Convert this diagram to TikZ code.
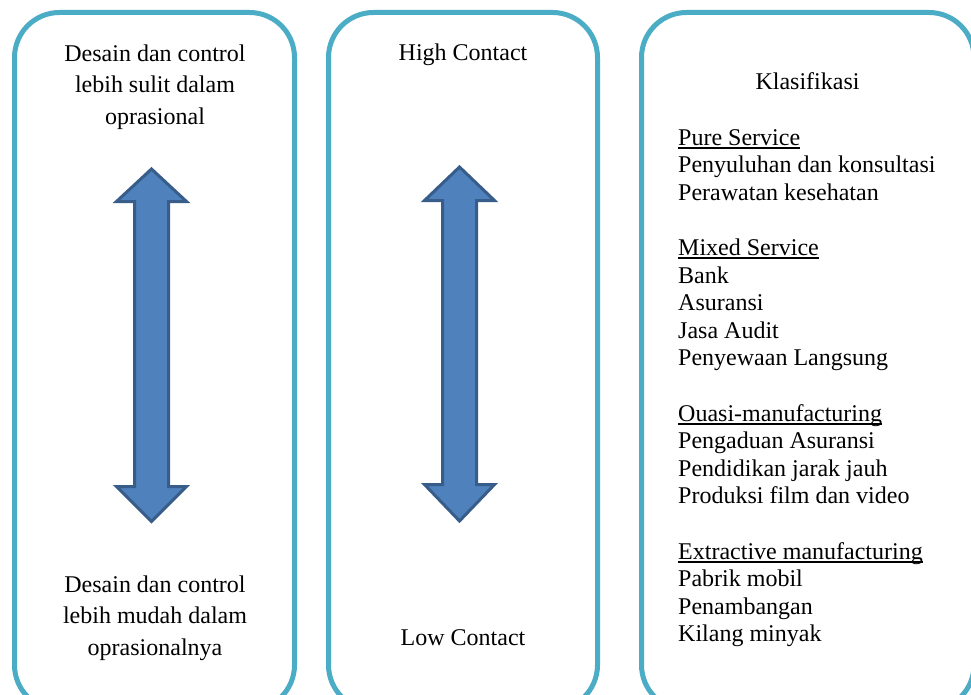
\documentclass[tikz,border=0pt]{standalone}
\usepackage{fontspec}
\setmainfont{Liberation Serif}
\definecolor{boxline}{HTML}{4BACC6}
\definecolor{arrowfill}{HTML}{4F81BD}
\definecolor{arrowline}{HTML}{385D8A}
\newcommand\headline[1]{\leavevmode\setbox0\hbox{#1}\rlap{\rule[-3.5pt]{\wd0}{1.8pt}}\box0}
\tikzset{
  panel/.style={draw=boxline, line width=5pt, rounded corners=45pt},
  dblarrow/.style={draw=arrowline, fill=arrowfill, line width=3pt},
  label/.style={inner sep=0pt, font=\fontsize{24}{31.5}\selectfont},
  listing/.style={inner sep=0pt, align=left, font=\fontsize{24}{27.6}\selectfont}
}
\begin{document}
\begin{tikzpicture}[x=1pt,y=-1pt]
\def\firstbox{(14.5,12.5) rectangle (294.5,710)}
\def\secondbox{(328.5,12.5) rectangle (597.5,710)}
\def\thirdbox{(641.5,12.5) rectangle (974,710)}

\useasboundingbox (0,0) rectangle (971,695);
\clip (0,0) rectangle (971,695);

\draw[panel] \firstbox;
\draw[panel] \secondbox;
\draw[panel] \thirdbox;

% double arrows: centre/top tip/upper base/lower base/bottom tip
\foreach \cx/\tt/\tb/\bb/\bt in {151.5/169/201.5/486.5/521.5, 459.5/167/200.5/484.5/521}
  \draw[dblarrow] (\cx,\tt) -- (\cx+35,\tb) -- (\cx+17,\tb) -- (\cx+17,\bb)
    -- (\cx+35,\bb) -- (\cx,\bt) -- (\cx-35,\bb) -- (\cx-17,\bb)
    -- (\cx-17,\tb) -- (\cx-35,\tb) -- cycle;

\node[label, align=center, anchor=north] (sulit) at (155,44.5)
  {Desain dan control\\lebih sulit dalam\\oprasional};
\node[label, align=center, anchor=north] (mudah) at (155,575.5)
  {Desain dan control\\lebih mudah dalam\\oprasionalnya};

\node[label, anchor=base] (high) at (463,61) {High Contact};
\node[label, anchor=base] (low) at (463,645) {Low Contact};

\node[label, anchor=base] (klas) at (807.5,89.5) {Klasifikasi};
\node[listing, anchor=north west] (list) at (678,129)
  {\headline{Pure Service}\\Penyuluhan dan konsultasi\\Perawatan kesehatan\\[27.6pt]
   \headline{Mixed Service}\\Bank\\Asuransi\\Jasa Audit\\Penyewaan Langsung\\[27.6pt]
   \headline{Ouasi-manufacturing}\\Pengaduan Asuransi\\Pendidikan jarak jauh\\Produksi film dan video\\[27.6pt]
   \headline{Extractive manufacturing}\\Pabrik mobil\\Penambangan\\Kilang minyak};
\end{tikzpicture}
\end{document}
